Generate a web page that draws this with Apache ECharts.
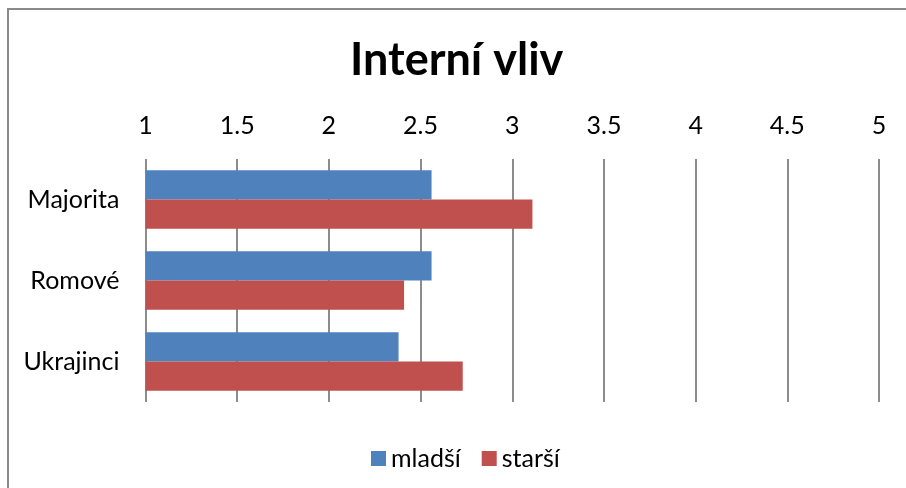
<!DOCTYPE html>
<html>
<head>
<meta charset="utf-8">
<script src="https://cdn.jsdelivr.net/npm/echarts@6/dist/echarts.min.js"></script>
<style>
  html, body { margin: 0; padding: 0; background: #fff; overflow: hidden; }
  #frame { position: absolute; left: 7px; top: 8px; width: 1000px; height: 600px; border: 2px solid #8a8a8a; box-sizing: border-box; }
  #chart { position: absolute; left: 0; top: 0; width: 906px; height: 488px; }
</style>
</head>
<body>
<div id="frame"></div>
<div id="chart"></div>
<script>
// data
var categories = ['Majorita', 'Romové', 'Ukrajinci']
var mladsi = [2.56, 2.56, 2.38]
var starsi = [3.11, 2.41, 2.73]
var seriesNames = ['mladší', 'starší']

var font = 'Lato, "Open Sans", sans-serif'
var chart = echarts.init(document.getElementById('chart'), null, { renderer: 'canvas' })

chart.setOption({
  animation: false,
  title: {
    text: 'Interní vliv',
    left: 350,
    top: 38,
    padding: 0,
    textStyle: { fontFamily: font, fontSize: 45, fontWeight: 'bold', color: '#000' }
  },
  legend: {
    data: seriesNames,
    bottom: 17,
    left: 371,
    padding: 0,
    itemWidth: 15,
    itemHeight: 15,
    itemGap: 21,
    icon: 'rect',
    textStyle: { fontFamily: font, fontSize: 25, color: '#000' }
  },
  grid: {
    left: 145.5,
    right: 27,
    top: 159,
    bottom: 86,
    containLabel: false
  },
  xAxis: {
    type: 'value',
    position: 'top',
    min: 1,
    max: 5,
    interval: 0.5,
    axisLine: { show: false },
    axisTick: { show: false },
    axisLabel: {
      fontFamily: font, fontSize: 25, color: '#000', margin: 21
    },
    splitLine: { show: true, lineStyle: { color: '#8c8c8c', width: 2 } }
  },
  yAxis: {
    type: 'category',
    data: categories,
    inverse: true,
    axisLine: { show: false },
    axisTick: { show: false },
    axisLabel: { fontFamily: font, fontSize: 25, color: '#000', margin: 26 }
  },
  series: [
    {
      name: seriesNames[0],
      type: 'bar',
      data: mladsi,
      barGap: '0%',
      barCategoryGap: '27.6%',
      itemStyle: { color: '#4f81bd' }
    },
    {
      name: seriesNames[1],
      type: 'bar',
      data: starsi,
      barGap: '0%',
      barCategoryGap: '27.6%',
      itemStyle: { color: '#c0504d' }
    }
  ]
})
</script>
</body>
</html>
